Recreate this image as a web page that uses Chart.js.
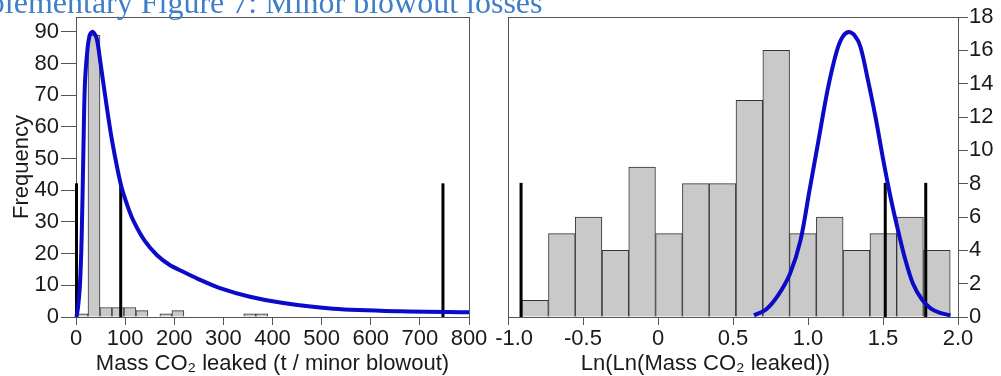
<!DOCTYPE html>
<html>
<head>
<meta charset="utf-8">
<script src="https://cdn.jsdelivr.net/npm/chart.js@4.4.0/dist/chart.umd.min.js"></script>
<style>
    html, body { margin: 0; padding: 0; background: #fff; }
    body { width: 1001px; height: 376px; position: relative; overflow: hidden; }
    #figTitle { position: absolute; left: -61px; top: -14px; font: 32px "Liberation Serif", "Times New Roman", serif; line-height: 32px; color: #3f7fc8; white-space: nowrap; }
    #leftChart { position: absolute; left: 0; top: 0; }
    #rightChart { position: absolute; left: 480px; top: 0; }
</style>
</head>
<body>
<canvas id="leftChart" width="490" height="376"></canvas>
<canvas id="rightChart" width="521" height="376"></canvas>
<div id="figTitle">Supplementary Figure 7: Minor blowout losses</div>
<script>
// left panel: mass leaked (t / minor blowout)
const leftBinCenters = [12.2, 36.6, 61.0, 85.4, 109.8, 134.2, 183.0, 207.4, 353.8, 378.2];
const leftCounts = [1, 89, 3, 3, 3, 2, 1, 2, 1, 1];
const leftFitX = [1, 4, 8, 11.5, 15, 18, 23, 28, 34, 42, 50, 62, 73, 91, 105, 118, 140, 165, 190, 215, 250, 290, 354, 422, 524, 660, 800];
const leftFitY = [0, 3, 10, 25, 52, 73, 84, 89, 90, 88, 80, 67, 56, 42, 35, 30, 24, 19.5, 16.5, 14.5, 11.9, 9.3, 6.4, 4.4, 2.6, 1.8, 1.5];
const leftMarkers = [1, 91, 747];
const leftMarkerTop = 42.2;
const leftXTicks = [0, 100, 200, 300, 400, 500, 600, 700, 800];
const leftYTicks = [0, 10, 20, 30, 40, 50, 60, 70, 80, 90];

// right panel: Ln(Ln(mass))
const rightBinCenters = [-0.820, -0.641, -0.463, -0.284, -0.106, 0.073, 0.252, 0.430, 0.609, 0.788, 0.966, 1.145, 1.323, 1.502, 1.680, 1.859];
const rightCounts = [1, 5, 6, 4, 9, 5, 8, 8, 13, 16, 5, 6, 4, 5, 6, 4];
const rightFitX = [0.64, 0.72, 0.80, 0.88, 0.95, 1.01, 1.07, 1.13, 1.19, 1.23, 1.27, 1.31, 1.35, 1.40, 1.45, 1.50, 1.55, 1.60, 1.65, 1.70, 1.76, 1.82, 1.88, 1.95];
const rightFitY = [0.1, 0.45, 1.3, 2.6, 4.6, 7.6, 10.6, 13.6, 15.9, 16.8, 17.1, 16.9, 16.2, 14.2, 12.0, 9.5, 7.2, 5.2, 3.4, 2.0, 1.05, 0.5, 0.25, 0.1];
const rightMarkers = [-0.913, 1.515, 1.785];
const rightMarkerTop = 8.05;
const rightXTicks = [-1.0, -0.5, 0, 0.5, 1.0, 1.5, 2.0];
const rightYTicks = [0, 2, 4, 6, 8, 10, 12, 14, 16, 18];

const axisColor = '#555';
const textColor = '#1a1a1a';
const sansFamily = '"Liberation Sans", Arial, sans-serif';
const tickFont = { family: sansFamily, size: 22 };
const titleFont = { family: sansFamily, size: 22, lineHeight: 1 };

// draws the full frame round the plot area
const frameBox = {
    id: 'frameBox',
    beforeDatasetsDraw(chart) {
        const a = chart.chartArea;
        const ctx = chart.ctx;
        ctx.save();
        ctx.strokeStyle = axisColor;
        ctx.lineWidth = 1;
        ctx.strokeRect(Math.round(a.left) + 0.5, Math.round(a.top) + 0.5, Math.round(a.right - a.left), Math.round(a.bottom - a.top));
        ctx.restore();
    }
};

function toPoints(xs, ys) {
    return xs.map((x, i) => ({ x: x, y: ys[i] }));
}

function markerLines(xs, top) {
    return xs.map(x => ({
        type: 'line',
        data: [{ x: x, y: 0 }, { x: x, y: top }],
        borderColor: '#000',
        borderWidth: 3,
        pointRadius: 0,
        order: 2,
        clip: false
    }));
}

function tickSetter(values) {
    return scale => { scale.ticks = values.map(v => ({ value: v })); };
}

function makeHistogram(canvasId, cfg) {
    const ctx = document.getElementById(canvasId).getContext('2d');
    return new Chart(ctx, {
        type: 'bar',
        data: {
            datasets: [
                {
                    type: 'line',
                    data: toPoints(cfg.fitX, cfg.fitY),
                    borderColor: '#0a0ac8',
                    borderWidth: 4,
                    pointRadius: 0,
                    tension: 0.3,
                    fill: false,
                    order: 1,
                    clip: false
                },
                ...markerLines(cfg.markers, cfg.markerTop),
                {
                    type: 'bar',
                    data: toPoints(cfg.binCenters, cfg.counts),
                    backgroundColor: '#c9c9c9',
                    borderColor: '#333',
                    borderWidth: 1,
                    barPercentage: 1,
                    categoryPercentage: 1,
                    order: 3
                }
            ]
        },
        options: {
            responsive: false,
            animation: false,
            devicePixelRatio: 1,
            layout: { padding: cfg.padding },
            plugins: { legend: { display: false }, tooltip: { enabled: false } },
            scales: {
                x: {
                    type: 'linear',
                    position: 'bottom',
                    min: cfg.xMin,
                    max: cfg.xMax,
                    offset: false,
                    afterBuildTicks: tickSetter(cfg.xTicks),
                    afterFit: scale => { scale.height = 59; },
                    grid: { offset: false, drawOnChartArea: false, tickLength: 8, color: axisColor },
                    border: { color: axisColor },
                    ticks: { font: tickFont, color: textColor, padding: 1, maxRotation: 0, autoSkip: false, callback: cfg.xLabel },
                    title: { display: true, text: cfg.xTitle, font: titleFont, color: textColor, padding: { top: 0, bottom: 1 } }
                },
                y: {
                    type: 'linear',
                    position: cfg.yPosition,
                    min: 0,
                    max: cfg.yMax,
                    afterBuildTicks: tickSetter(cfg.yTicks),
                    afterFit: scale => { scale.width = cfg.yWidth; },
                    grid: { drawOnChartArea: false, tickLength: cfg.yTickLength, color: axisColor },
                    border: { color: axisColor },
                    ticks: { font: tickFont, color: textColor, padding: cfg.yPad, autoSkip: false },
                    title: cfg.yTitle
                        ? { display: true, text: cfg.yTitle, font: titleFont, color: textColor, padding: { top: 11, bottom: 0 } }
                        : { display: false }
                }
            }
        },
        plugins: [frameBox]
    });
}

makeHistogram('leftChart', {
    binCenters: leftBinCenters, counts: leftCounts,
    fitX: leftFitX, fitY: leftFitY,
    markers: leftMarkers, markerTop: leftMarkerTop,
    xTicks: leftXTicks, yTicks: leftYTicks,
    xMin: 0, xMax: 800, yMax: 94.7,
    xLabel: v => String(v),
    xTitle: 'Mass CO\u2082 leaked (t / minor blowout)',
    yTitle: 'Frequency',
    yPosition: 'left', yWidth: 76, yTickLength: 15, yPad: 2,
    padding: { left: 0, top: 17, right: 21, bottom: 0 }
});

makeHistogram('rightChart', {
    binCenters: rightBinCenters, counts: rightCounts,
    fitX: rightFitX, fitY: rightFitY,
    markers: rightMarkers, markerTop: rightMarkerTop,
    xTicks: rightXTicks, yTicks: rightYTicks,
    xMin: -1, xMax: 2, yMax: 18,
    // first label sits a little right of its tick in the original
    xLabel: v => (v === 0 ? '0' : v === -1 ? '\u00a0\u00a0' + v.toFixed(1) : v.toFixed(1)),
    xTitle: 'Ln(Ln(Mass CO\u2082 leaked))' + '\u00a0'.repeat(9),
    yTitle: null,
    yPosition: 'right', yWidth: 43, yTickLength: 10, yPad: 1,
    padding: { left: 28, top: 17, right: 0, bottom: 0 }
});
</script>
</body>
</html>
